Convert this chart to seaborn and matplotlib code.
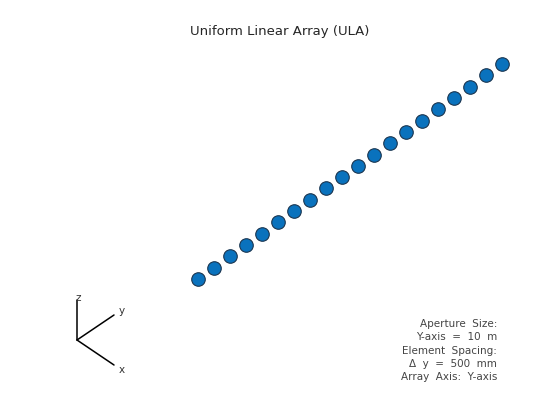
import numpy as np
import matplotlib
matplotlib.use("Agg")
import matplotlib.pyplot as plt
import seaborn as sns
import pandas as pd

n_elements = 20
spacing_m = 0.5
element_y = [(i - (n_elements - 1) / 2) * spacing_m for i in range(n_elements)]
info_lines = ["Aperture  Size:", "Y-axis  =  10  m", "Element  Spacing:",
              "\u0394  y  =  500  mm", "Array  Axis:  Y-axis"]

sns.set_style("white")
fig = plt.figure(figsize=(5.6, 4.2), dpi=100)
ax = fig.add_axes([0, 0, 1, 1])
df = pd.DataFrame({"h": element_y, "v": [p * 0.7072 for p in element_y]})
sns.scatterplot(data=df, x="h", y="v", ax=ax, s=95, color="#0a72bd",
                edgecolor="#1a3550", linewidth=0.8, legend=False)
ax.set_xlim(-350 / 32, 210 / 32)
ax.set_ylim((171.5 - 420) / 32, 171.5 / 32)
ax.axis("off")

fig.text(280 / 560, 1 - 32 / 420, "Uniform Linear Array (ULA)", ha="center", va="center", fontsize=9.5)

def P(x, y):
    return x / 560, 1 - y / 420
for end in [(77, 300), (114, 315), (114, 365)]:
    xs, ys = zip(P(77, 340), P(*end))
    fig.add_artist(plt.Line2D(xs, ys, color="black", lw=1.1))
for lab, pos in [("z", (78, 298)), ("y", (122, 311)), ("x", (122, 370))]:
    fig.text(*P(*pos), lab, ha="center", va="center", fontsize=7.5, color="#333333")

for i, t in enumerate(info_lines):
    fig.text(*P(497, 324 + i * 13.3), t, ha="right", va="center", fontsize=7.5, color="#444444")

fig.savefig("out.png", dpi=100)
